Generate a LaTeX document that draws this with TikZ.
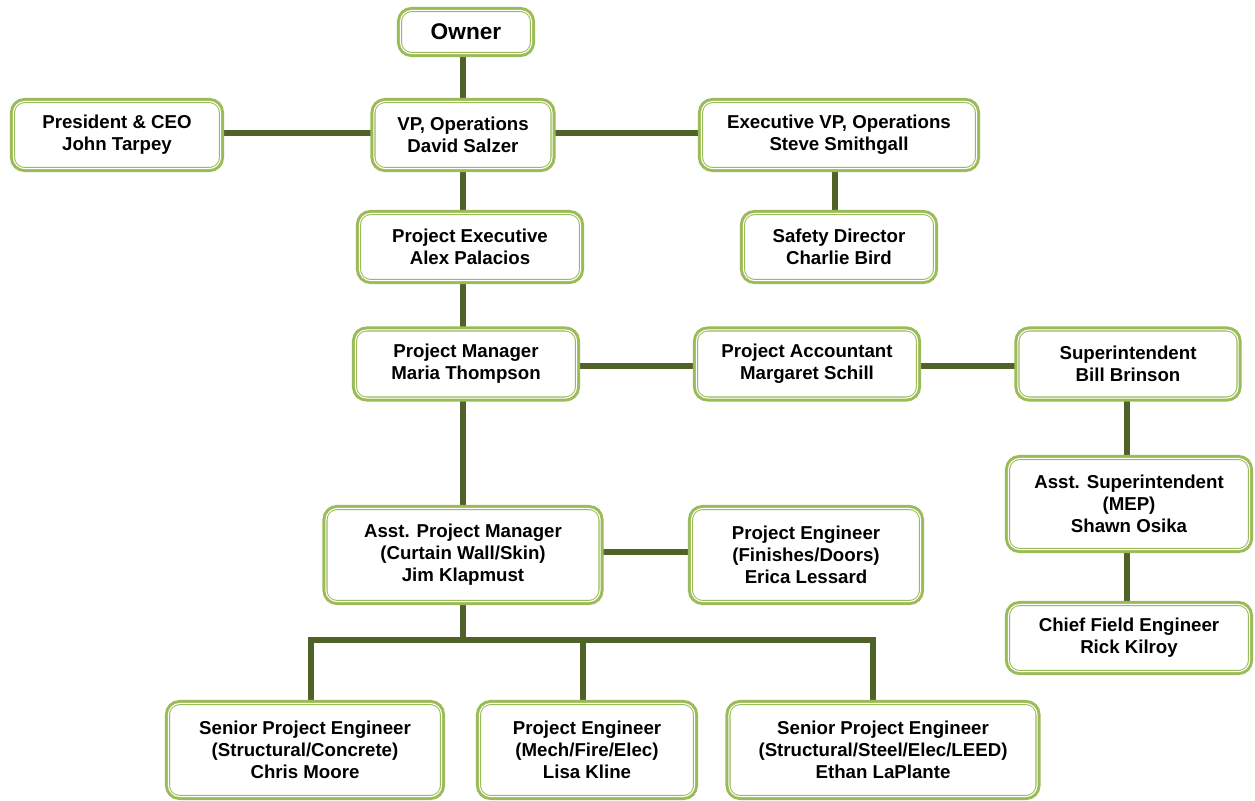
\documentclass[tikz,border=0pt]{standalone}
\usepackage{fontspec}
\setmainfont{Liberation Sans}
\usetikzlibrary{backgrounds}
\definecolor{boxgreen}{HTML}{9BBB59}
\definecolor{linkgreen}{HTML}{4F6228}
\begin{document}
\begin{tikzpicture}[x=0.75pt,y=-0.75pt,
  orgbox/.style 2 args={draw=boxgreen, line width=3.8pt, outer sep=0pt,
    rounded corners=9pt, fill=white, align=center, inner sep=0pt,
    font=\bfseries\fontsize{14}{16.5}\selectfont,
    minimum width={(#1-5)*0.75pt}, minimum height={(#2-5)*0.75pt}},
  innerframe/.style={draw=white, line width=0.8pt, rounded corners=8.5pt},
  link/.style={draw=linkgreen, line width=4.5pt}]
\useasboundingbox (0,0) rectangle (1255,800);
\node[orgbox={138}{50}, font=\bfseries\fontsize{17}{20}\selectfont] (owner) at (466,32) {Owner};
\node[orgbox={214}{74}] (pres) at (117,135) {President \& CEO\\John Tarpey};
\node[orgbox={185}{74}] (vp) at (463,135) {VP, Operations\\David Salzer};
\node[orgbox={282}{74}] (evp) at (839,135) {Executive VP, Operations\\Steve Smithgall};
\node[orgbox={228}{74}] (pe) at (470,247) {Project Executive\\Alex Palacios};
\node[orgbox={198}{74}] (safety) at (839,247) {Safety Director\\Charlie Bird};
\node[orgbox={228}{75}] (pm) at (466,364) {Project Manager\\Maria Thompson};
\node[orgbox={228}{75}] (acct) at (807,364) {Project Accountant\\Margaret Schill};
\node[orgbox={227}{75}] (supt) at (1128,364) {Superintendent\\Bill Brinson};
\node[orgbox={248}{98}] (asupt) at (1129,504) {Asst. Superintendent\\(MEP)\\Shawn Osika};
\node[orgbox={248}{74}] (chief) at (1129,638) {Chief Field Engineer\\Rick Kilroy};
\node[orgbox={281}{100}] (apm) at (463,555) {Asst. Project Manager\\(Curtain Wall/Skin)\\Jim Klapmust};
\node[orgbox={236}{100}] (pefin) at (806,555) {Project Engineer\\(Finishes/Doors)\\Erica Lessard};
\node[orgbox={280}{100}] (spe1) at (305,750) {Senior Project Engineer\\(Structural/Concrete)\\Chris Moore};
\node[orgbox={222}{100}] (pemech) at (587,750) {Project Engineer\\(Mech/Fire/Elec)\\Lisa Kline};
\node[orgbox={315}{100}] (spe2) at (883,750) {Senior Project Engineer\\(Structural/Steel/Elec/LEED)\\Ethan LaPlante};
\foreach \n in {owner,pres,vp,evp,pe,safety,pm,acct,supt,asupt,chief,apm,pefin,spe1,pemech,spe2}
  \draw[innerframe] ([shift={(0.7pt,-0.7pt)}]\n.north west) rectangle ([shift={(-0.7pt,0.7pt)}]\n.south east);
\coordinate (bus) at (463,640);
\begin{scope}[on background layer]
\fill[white] (0,0) rectangle (1255,800);
\draw[link] (vp.north) -- (vp.north |- owner.south);
\draw[link] (pres.east |- 0,133) -- (vp.west |- 0,133);
\draw[link] (vp.east |- 0,133) -- (evp.west |- 0,133);
\draw[link] (safety.north -| 835,0) -- (evp.south -| 835,0);
\draw[link] (vp.south) -- (vp.south |- pe.north);
\draw[link] (pm.north -| vp.south) -- (pe.south -| vp.south);
\draw[link] (pm.east |- 0,366) -- (acct.west |- 0,366);
\draw[link] (acct.east |- 0,366) -- (supt.west |- 0,366);
\draw[link] (supt.south -| 1127,0) -- (asupt.north -| 1127,0);
\draw[link] (asupt.south -| 1127,0) -- (chief.north -| 1127,0);
\draw[link] (pm.south -| vp.south) -- (apm.north -| vp.south);
\draw[link] (apm.east |- 0,552) -- (pefin.west |- 0,552);
\draw[link] (apm.south) -- (bus);
\draw[link] (spe1.north -| 311,0) |- (bus);
\draw[link] (pemech.north -| 583,0) -- (583,640);
\draw[link] (spe2.north -| 873,0) |- (bus);
\end{scope}
\end{tikzpicture}
\end{document}
